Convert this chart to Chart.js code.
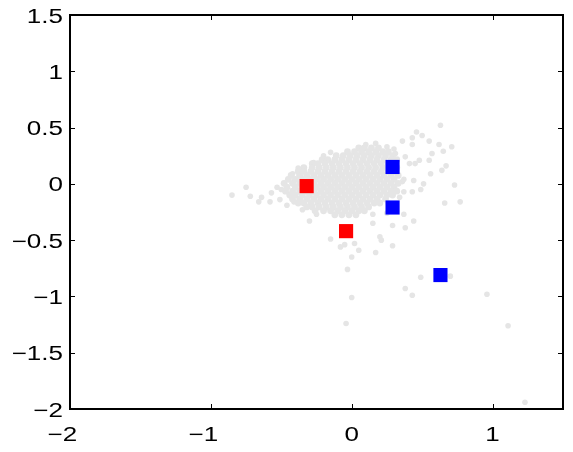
<!DOCTYPE html>
<html>
<head>
<meta charset="utf-8">
<script src="https://cdn.jsdelivr.net/npm/chart.js@4.4.1/dist/chart.umd.min.js"></script>
<style>
  html, body { margin: 0; padding: 0; background: #fff; }
  canvas { display: block; }
</style>
</head>
<body>
<canvas id="scatterChart" width="573" height="452"></canvas>
<script>
// axis ticks
const xTicks = [-2, -1, 0, 1];
const yTicks = [-2, -1.5, -1, -0.5, 0, 0.5, 1, 1.5];

// highlighted points
const redX = [-0.32, -0.04];
const redY = [-0.02, -0.42];
const blueX = [0.29, 0.29, 0.63];
const blueY = [0.15, -0.21, -0.81];

// dense grey cloud, one row per y value: [y, [x, x, ...]]
const coreRows = [
    [0.32, [0.05, 0.09, 0.14, 0.19]],
    [0.285, [-0.03, 0.02, 0.07, 0.12, 0.17, 0.22, 0.26]],
    [0.25, [-0.11, -0.06, -0.01, 0.04, 0.09, 0.14, 0.19, 0.24, 0.29]],
    [0.215, [-0.21, -0.17, -0.12, -0.07, -0.02, 0.03, 0.08, 0.13, 0.18, 0.23, 0.28, 0.32]],
    [0.18, [-0.28, -0.24, -0.19, -0.14, -0.09, -0.04, 0.01, 0.06, 0.11, 0.16, 0.21, 0.26, 0.31]],
    [0.145, [-0.34, -0.28, -0.23, -0.18, -0.13, -0.08, -0.03, 0.02, 0.07, 0.12, 0.17, 0.22, 0.27, 0.32]],
    [0.11, [-0.38, -0.34, -0.29, -0.24, -0.19, -0.14, -0.09, -0.04, 0.01, 0.06, 0.11, 0.16, 0.21, 0.26, 0.31]],
    [0.075, [-0.43, -0.37, -0.32, -0.27, -0.22, -0.17, -0.12, -0.07, -0.02, 0.03, 0.08, 0.13, 0.18, 0.23, 0.28, 0.33]],
    [0.04, [-0.45, -0.40, -0.35, -0.30, -0.25, -0.20, -0.15, -0.10, -0.05, 0.00, 0.05, 0.10, 0.15, 0.20, 0.25, 0.30]],
    [0.005, [-0.48, -0.42, -0.37, -0.32, -0.27, -0.22, -0.17, -0.12, -0.07, -0.02, 0.03, 0.08, 0.13, 0.18, 0.23, 0.28, 0.33]],
    [-0.03, [-0.46, -0.40, -0.35, -0.30, -0.25, -0.20, -0.15, -0.10, -0.05, 0.00, 0.05, 0.10, 0.15, 0.20, 0.25, 0.30]],
    [-0.065, [-0.47, -0.42, -0.37, -0.32, -0.27, -0.22, -0.17, -0.12, -0.07, -0.02, 0.03, 0.08, 0.13, 0.18, 0.23, 0.28, 0.32]],
    [-0.10, [-0.44, -0.40, -0.35, -0.30, -0.25, -0.20, -0.15, -0.10, -0.05, 0.00, 0.05, 0.10, 0.15, 0.20, 0.25, 0.29]],
    [-0.135, [-0.42, -0.37, -0.32, -0.27, -0.22, -0.17, -0.12, -0.07, -0.02, 0.03, 0.08, 0.13, 0.18, 0.24]],
    [-0.17, [-0.38, -0.34, -0.29, -0.24, -0.19, -0.14, -0.09, -0.04, 0.01, 0.06, 0.11, 0.16, 0.20]],
    [-0.205, [-0.32, -0.28, -0.23, -0.18, -0.13, -0.08, -0.03, 0.02, 0.07, 0.12]],
    [-0.24, [-0.26, -0.20, -0.15, -0.10, -0.05, 0.00, 0.05, 0.09]],
    [-0.275, [-0.12, -0.07, -0.02, 0.03]]
];

// scattered grey points outside the cloud: [x, y]
const outerPoints = [
    [0.63, 0.52], [0.46, 0.46], [0.50, 0.43], [0.43, 0.41], [0.36, 0.38], [0.55, 0.38],
    [0.62, 0.35], [0.71, 0.33], [0.65, 0.29], [0.57, 0.27], [0.17, 0.36], [-0.27, 0.19],
    [0.55, 0.21], [0.48, 0.21], [0.67, 0.16], [0.64, 0.12], [0.56, 0.09], [0.44, 0.03],
    [0.51, 0.00], [0.73, -0.01], [0.77, -0.16], [0.66, -0.17], [0.44, -0.33], [0.38, -0.39],
    [0.37, -0.27], [0.43, 0.35], [0.37, 0.04], [0.37, -0.07], [0.49, -0.05], [0.43, -0.07],
    [0.38, 0.24], [0.41, 0.18], [0.31, 0.27], [0.45, 0.18], [0.36, 0.02],
    [-0.20, 0.25], [-0.15, 0.28], [0.25, 0.33], [0.30, 0.31], [-0.38, 0.14], [-0.25, -0.27],
    [0.15, -0.27], [0.26, -0.17], [0.34, -0.12], [0.10, 0.35],
    [-0.85, -0.10], [-0.75, -0.03], [-0.72, -0.11], [-0.66, -0.16], [-0.58, -0.16], [-0.64, -0.12],
    [-0.53, -0.03], [-0.42, 0.09], [-0.36, 0.11], [-0.30, -0.33], [0.15, -0.35], [0.25, -0.26],
    [-0.57, -0.08], [-0.50, -0.05], [-0.51, -0.14], [-0.46, -0.19], [-0.41, -0.16], [-0.35, -0.23],
    [0.29, -0.37], [-0.15, -0.49], [-0.08, -0.56], [-0.05, -0.54], [0.02, -0.53], [0.05, -0.59],
    [0.00, -0.65], [0.20, -0.47], [0.21, -0.50], [0.17, -0.61], [0.29, -0.55], [-0.03, -0.76],
    [0.49, -0.83], [0.70, -0.82], [0.38, -0.93], [0.43, -0.99], [0.96, -0.98], [0.00, -1.01],
    [-0.04, -1.24], [1.11, -1.26], [1.23, -1.94]
];

const corePoints = [];
coreRows.forEach(([y, xs]) => xs.forEach(x => corePoints.push({ x, y })));
const loosePoints = outerPoints.map(([x, y]) => ({ x, y }));

const toPoints = (xs, ys) => xs.map((x, i) => ({ x, y: ys[i] }));

function tickText(v) {
    return v < 0 ? '\u2212' + Math.abs(v) : String(v);
}

// MATLAB-style text looks wider than plain Arial, so squeeze it out a bit
const STRETCH = 1.3;
function drawLabel(ctx, text, x, y, align) {
    ctx.save();
    ctx.translate(x, y);
    ctx.scale(STRETCH, 1);
    ctx.textAlign = align;
    ctx.fillText(text, 0, 0);
    ctx.restore();
}

// box, inward ticks on all sides, tick labels
const framePlugin = {
    id: 'frame',
    afterDraw(chart) {
        const { ctx, chartArea: a, scales } = chart;
        const xs = scales.x, ys = scales.y;
        ctx.save();
        ctx.strokeStyle = '#000';
        ctx.lineWidth = 1;
        ctx.beginPath();
        xTicks.forEach(v => {
            const px = Math.round(xs.getPixelForValue(v)) + 0.5;
            ctx.moveTo(px, a.bottom); ctx.lineTo(px, a.bottom - 5);
            ctx.moveTo(px, a.top); ctx.lineTo(px, a.top + 5);
        });
        yTicks.forEach(v => {
            const py = Math.round(ys.getPixelForValue(v)) + 0.5;
            ctx.moveTo(a.left, py); ctx.lineTo(a.left + 5, py);
            ctx.moveTo(a.right, py); ctx.lineTo(a.right - 5, py);
        });
        ctx.stroke();

        ctx.lineWidth = 2;
        ctx.strokeRect(a.left, a.top, a.right - a.left, a.bottom - a.top);

        ctx.fillStyle = '#000';
        ctx.font = '20px "Liberation Sans", Arial, sans-serif';
        ctx.textBaseline = 'middle';
        yTicks.forEach(v => {
            drawLabel(ctx, tickText(v), a.left - 7, ys.getPixelForValue(v) + 2, 'right');
        });
        xTicks.forEach(v => {
            // digits centred on the tick, minus sign hangs to the left
            const w = ctx.measureText(String(Math.abs(v))).width * STRETCH;
            drawLabel(ctx, tickText(v), xs.getPixelForValue(v) + w / 2, 435, 'right');
        });
        ctx.restore();
    }
};

const GREY = 'rgb(229,229,229)';

new Chart(document.getElementById('scatterChart').getContext('2d'), {
    type: 'scatter',
    data: {
        datasets: [
            {
                data: toPoints(redX, redY),
                backgroundColor: '#ff0000',
                pointStyle: 'rect',
                pointRadius: 10,
                borderWidth: 0,
                order: 0
            },
            {
                data: toPoints(blueX, blueY),
                backgroundColor: '#0000ff',
                pointStyle: 'rect',
                pointRadius: 10,
                borderWidth: 0,
                order: 0
            },
            {
                data: corePoints,
                backgroundColor: GREY,
                pointRadius: 3.4,
                borderWidth: 0,
                order: 1
            },
            {
                data: loosePoints,
                backgroundColor: GREY,
                pointRadius: 2.8,
                borderWidth: 0,
                order: 1
            }
        ]
    },
    options: {
        responsive: false,
        animation: false,
        events: [],
        layout: { padding: { top: 15, right: 2, left: 0, bottom: 0 } },
        plugins: {
            legend: { display: false },
            tooltip: { enabled: false }
        },
        scales: {
            x: {
                type: 'linear',
                min: -2,
                max: 1.5,
                grid: { display: false },
                border: { display: false },
                ticks: { display: false },
                afterBuildTicks: s => { s.ticks = xTicks.map(value => ({ value })); },
                afterFit: s => { s.height = 43; }
            },
            y: {
                type: 'linear',
                min: -2,
                max: 1.5,
                grid: { display: false },
                border: { display: false },
                ticks: { display: false },
                afterBuildTicks: s => { s.ticks = yTicks.map(value => ({ value })); },
                afterFit: s => { s.width = 70; }
            }
        }
    },
    plugins: [framePlugin]
});
</script>
</body>
</html>
